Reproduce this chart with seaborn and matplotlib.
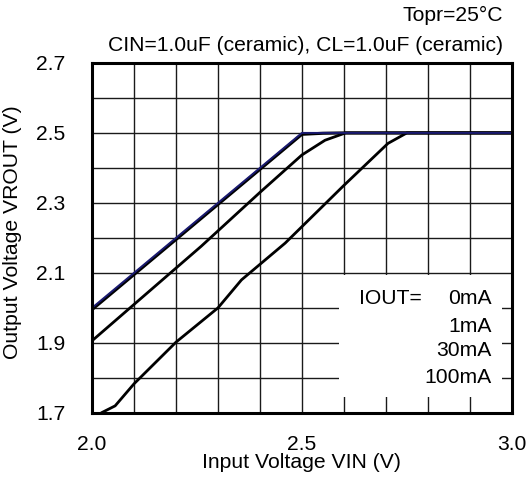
import numpy as np
import pandas as pd
import matplotlib
matplotlib.use("Agg")
import matplotlib.pyplot as plt
from matplotlib.patches import Rectangle
import seaborn as sns

# IOUT = 0mA
vin_0 = [2.0, 2.5, 3.0]
vout_0 = [2.0, 2.5, 2.5]
# IOUT = 1mA
vin_1 = [2.0, 2.5, 2.55, 2.6, 3.0]
vout_1 = [1.995, 2.496, 2.499, 2.5, 2.5]
# IOUT = 30mA
vin_30 = [2.0, 2.26, 2.4, 2.5, 2.555, 2.604, 3.0]
vout_30 = [1.906, 2.176, 2.33, 2.437, 2.479, 2.5, 2.5]
# IOUT = 100mA
vin_100 = [2.022, 2.055, 2.1, 2.2, 2.3, 2.356, 2.46, 2.6, 2.705, 2.75, 3.0]
vout_100 = [1.70, 1.72, 1.783, 1.902, 2.0, 2.08, 2.185, 2.35, 2.47, 2.5, 2.5]

legend_labels = ["0mA", "1mA", "30mA", "100mA"]

sns.set_theme(style="white")
plt.rcParams["font.family"] = ["Liberation Sans", "DejaVu Sans"]
plt.rcParams["text.color"] = "black"
plt.rcParams["axes.labelcolor"] = "black"

fs = 15.2

fig = plt.figure(figsize=(5.26, 4.84), dpi=100)
ax = fig.add_axes([0.175, 0.147, 0.798, 0.723])

# grid
ax.set_xlim(2.0, 3.0)
ax.set_ylim(1.7, 2.7)
ax.set_xticks([2.0, 2.5, 3.0])
ax.set_xticks(np.arange(2.1, 3.0, 0.1), minor=True)
ax.set_yticks([1.7, 1.9, 2.1, 2.3, 2.5, 2.7])
ax.set_yticks(np.arange(1.8, 2.7, 0.2), minor=True)
ax.set_xticklabels(["2.0", "2.5", "3.0"])
ax.set_yticklabels(["1.7", "1.9", "2.1", "2.3", "2.5", "2.7"])
ax.grid(True, which="both", color="#1a1a1a", linewidth=1.0)
ax.tick_params(which="both", length=0, labelsize=fs, colors="black")
ax.tick_params(axis="x", pad=16)
ax.tick_params(axis="y", pad=19)

for s in ax.spines.values():
    s.set_color("black")
    s.set_linewidth(2.2)

sns.lineplot(x=vin_100, y=vout_100, color="black", linewidth=2, ax=ax, sort=False, legend=False)
sns.lineplot(x=vin_30, y=vout_30, color="black", linewidth=2, ax=ax, sort=False, legend=False)
sns.lineplot(x=vin_1, y=vout_1, color="black", linewidth=2.2, ax=ax, sort=False, legend=False)
sns.lineplot(x=vin_0, y=vout_0, color="#1a1a70", linewidth=1.4, ax=ax, sort=False, legend=False)

# legend box
ax.add_patch(Rectangle((2.588, 1.745), 0.388, 0.349, facecolor="white",
                       edgecolor="none", zorder=3))
ax.text(2.636, 2.028, "IOUT=", fontsize=fs, ha="left", va="center", zorder=4)
for lbl, yy in zip(legend_labels, [2.028, 1.947, 1.878, 1.800]):
    ax.text(2.952, yy, lbl, fontsize=fs, ha="right", va="center", zorder=4)

ax.set_xlabel("Input Voltage VIN (V)", fontsize=fs)
ax.set_ylabel("Output Voltage VROUT (V)", fontsize=fs)
ax.xaxis.set_label_coords(0.5, -0.116)
ax.yaxis.set_label_coords(-0.168, 0.517)

fig.text(0.956, 0.969, "Topr=25°C", ha="right", va="center", fontsize=fs)
fig.text(0.956, 0.905, "CIN=1.0uF (ceramic), CL=1.0uF (ceramic)", ha="right",
         va="center", fontsize=fs)

fig.savefig("out.png", dpi=100)
